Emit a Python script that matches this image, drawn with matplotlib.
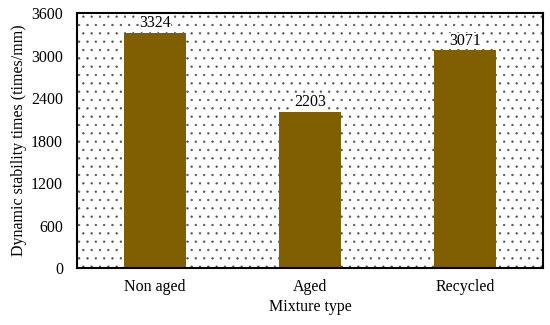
import matplotlib.pyplot as plt
from matplotlib.patches import Rectangle

categories = ["Non aged", "Aged", "Recycled"]
values = [3324, 2203, 3071]
yticks = [0, 600, 1200, 1800, 2400, 3000, 3600]

plt.rcParams['font.family'] = ['Liberation Serif', 'DejaVu Serif']
plt.rcParams['hatch.linewidth'] = 0.45

fig = plt.figure(figsize=(5.5, 3.25), dpi=100)
ax = fig.add_axes([0.14, 0.175, 0.847, 0.785])

bg = Rectangle((0, 0), 1, 1, transform=ax.transAxes, facecolor='white',
               edgecolor='#555555', linewidth=0, hatch='..', zorder=1)
ax.add_patch(bg)

x = range(len(categories))
bars = ax.bar(x, values, width=0.4, color='#7F5F00', zorder=2)
for xi, v in zip(x, values):
    ax.text(xi, v + 25, str(v), ha='center', va='bottom', fontsize=11.5, zorder=3,
            bbox=dict(facecolor='white', edgecolor='none', pad=0.1))

ax.set_xlim(-0.5, 2.5)
ax.set_ylim(0, 3600)
ax.set_yticks(yticks)
ax.set_xticks(list(x))
ax.set_xticklabels(categories)
ax.tick_params(axis='both', length=0, labelsize=11.5)
ax.tick_params(axis='y', pad=10)
ax.tick_params(axis='x', pad=8)
for s in ax.spines.values():
    s.set_linewidth(1.5)
    s.set_color('black')
    s.set_zorder(4)
ax.set_xlabel("Mixture type", fontsize=11.5, labelpad=3)
ax.set_ylabel("Dynamic stability times (times/mm)", fontsize=11.5, labelpad=3)

fig.savefig("out.png", dpi=100)
